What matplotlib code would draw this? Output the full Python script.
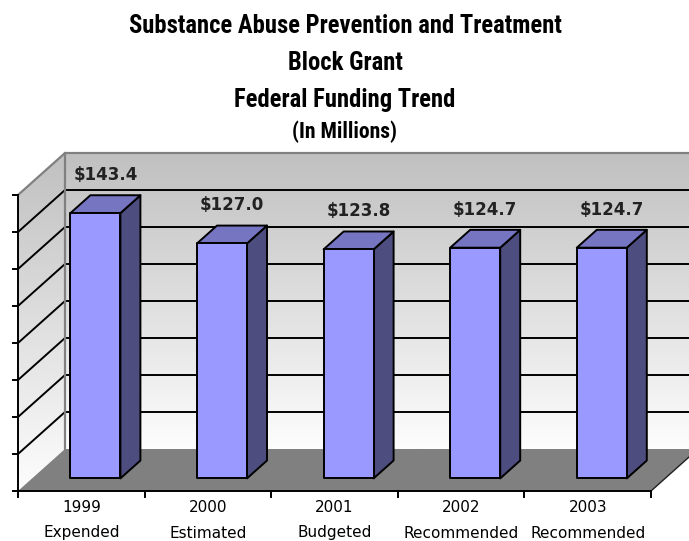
import numpy as np
import matplotlib
matplotlib.use("Agg")
import matplotlib.pyplot as plt
from matplotlib.patches import Polygon
from matplotlib import font_manager as fm

# ---------------- data ----------------
years = ["1999", "2000", "2001", "2002", "2003"]
statuses = ["Expended", "Estimated", "Budgeted", "Recommended", "Recommended"]
values = [143.4, 127.0, 123.8, 124.7, 124.7]
value_labels = ["$143.4", "$127.0", "$123.8", "$124.7", "$124.7"]
y_ticks = [0, 20, 40, 60, 80, 100, 120, 140, 160]
title_lines = ["Substance Abuse Prevention and Treatment", "Block Grant",
               "Federal Funding Trend", "(In Millions)"]

# ---------------- fonts ----------------
installed = set(f.name for f in fm.fontManager.ttflist)
title_pref = ["Liberation Sans Narrow", "Arial Narrow", "Roboto Condensed",
              "PT Sans Narrow", "Liberation Sans"]
title_family = [f for f in title_pref if f in installed] + ["DejaVu Sans"]

# ---------------- layout ----------------
W_PX, H_PX, DPI = 689, 541, 100
fig = plt.figure(figsize=(W_PX / DPI, H_PX / DPI), dpi=DPI)
ax = fig.add_axes([0, 0, 1, 1])
ax.set_axis_off()

ncat = len(years)
ymax = y_ticks[-1]
px_left, px_right, px_bottom, px_top = 18, 651, 491, 195
sx = (px_right - px_left) / ncat
sy = (px_bottom - px_top) / ymax
ax.set_xlim(-px_left / sx, (W_PX - px_left) / sx)
ax.set_ylim(-(H_PX - px_bottom) / sy, px_bottom / sy)

DX = 47 / sx
DY = 42 / sy

def P(x, y, d):
    return (x + d * DX, y + d * DY)

# ---------------- walls ----------------
grad = np.linspace(1.0, 0.0, 256).reshape(-1, 1)
cmap = matplotlib.colors.LinearSegmentedColormap.from_list("w", ["#fdfdfd", "#c0c0c0"])

back_pts = [P(0, 0, 1), P(ncat, 0, 1), P(ncat, ymax, 1), P(0, ymax, 1)]
back = Polygon(back_pts, closed=True, facecolor="none", edgecolor="none")
ax.add_patch(back)
im = ax.imshow(grad, cmap=cmap, aspect="auto", origin="upper",
               extent=[DX, ncat + DX, DY, ymax + DY], zorder=1)
im.set_clip_path(back)

left_pts = [P(0, 0, 0), P(0, 0, 1), P(0, ymax, 1), P(0, ymax, 0)]
left = Polygon(left_pts, closed=True, facecolor="none", edgecolor="none")
ax.add_patch(left)
im2 = ax.imshow(grad, cmap=cmap, aspect="auto", origin="upper",
                extent=[0, DX, 0, ymax + DY], zorder=1)
im2.set_clip_path(left)

floor = Polygon([P(0, 0, 0), P(ncat, 0, 0), P(ncat, 0, 1), P(0, 0, 1)], closed=True,
                facecolor="#808080", edgecolor="none", zorder=2)
ax.add_patch(floor)
ax.plot(*zip(P(ncat, 0, 0), P(ncat, 0, 1)), color="#202020", lw=1.0, zorder=3)

for v in y_ticks[1:-1]:
    ax.plot(*zip(P(0, v, 1), P(ncat, v, 1)), color="black", lw=1.4, zorder=3,
            solid_capstyle="butt")
    ax.plot(*zip(P(0, v, 0), P(0, v, 1)), color="black", lw=1.4, zorder=3)
ax.plot(*zip(P(0, ymax, 0), P(0, ymax, 1), P(ncat, ymax, 1)), color="#808080", lw=1.6, zorder=3)
ax.plot(*zip(P(0, 0, 1), P(0, ymax, 1)), color="#808080", lw=1.6, zorder=3)

ax.plot([0, 0], [0, ymax], color="black", lw=1.4, zorder=6)
ax.plot([0, ncat], [0, 0], color="black", lw=1.4, zorder=6)
tick_x = 5 / sx
tick_y = 6 / sy
for v in y_ticks:
    ax.plot([-tick_x, 0], [v, v], color="black", lw=1.4, zorder=6)
for i in range(ncat + 1):
    ax.plot([i, i], [0, -tick_y], color="black", lw=1.4, zorder=6)

# ---------------- bars ----------------
bw = 50 / sx
d0 = 0.30
d1 = d0 + 20 / 47
front_c, top_c, side_c = "#9999ff", "#7575c2", "#4d4d80"
for i, v in enumerate(values):
    x0 = i + 0.5 - bw / 2
    x1 = x0 + bw
    side = Polygon([P(x1, 0, d0), P(x1, 0, d1), P(x1, v, d1), P(x1, v, d0)],
                   closed=True, facecolor=side_c, edgecolor="black", lw=1.4, zorder=4,
                   joinstyle="round")
    top = Polygon([P(x0, v, d0), P(x1, v, d0), P(x1, v, d1), P(x0, v, d1)],
                  closed=True, facecolor=top_c, edgecolor="black", lw=1.4, zorder=4,
                  joinstyle="round")
    front = Polygon([P(x0, 0, d0), P(x1, 0, d0), P(x1, v, d0), P(x0, v, d0)],
                    closed=True, facecolor=front_c, edgecolor="black", lw=1.4, zorder=5,
                    joinstyle="round")
    for p in (side, top, front):
        ax.add_patch(p)
    lx, _ = P(i + 0.5, v, (d0 + d1) / 2)
    _, ly = P(i + 0.5, v, d1)
    ax.annotate(value_labels[i], (lx, ly), xytext=(0, 8), textcoords="offset points",
                ha="center", va="bottom", fontsize=12, fontweight="bold",
                color="#222222", family="DejaVu Sans", zorder=7)

# ---------------- category labels ----------------
for i in range(ncat):
    ax.annotate(years[i], (i + 0.5, 0), xytext=(0, -16 * 72 / DPI), textcoords="offset points",
                ha="center", va="center", fontsize=11, family="DejaVu Sans")
    ax.annotate(statuses[i], (i + 0.5, 0), xytext=(0, -42 * 72 / DPI), textcoords="offset points",
                ha="center", va="center", fontsize=11, family="DejaVu Sans")

# ---------------- title (size fitted to the reference line widths) ----------------
baselines = [33, 70, 107, 138]
target_w = [434, 434, 434, 105]
renderer = fig.canvas.get_renderer()
for line, b, tw in zip(title_lines, baselines, target_w):
    t = fig.text(345 / W_PX, 1 - b / H_PX, line, ha="center", va="baseline",
                 fontsize=17, fontweight="bold", family=title_family)
    if line != title_lines[1] and line != title_lines[2]:
        w = t.get_window_extent(renderer).width
        fit = 17 * tw / w
    t.set_fontsize(fit)

fig.savefig("out.png", dpi=DPI)
